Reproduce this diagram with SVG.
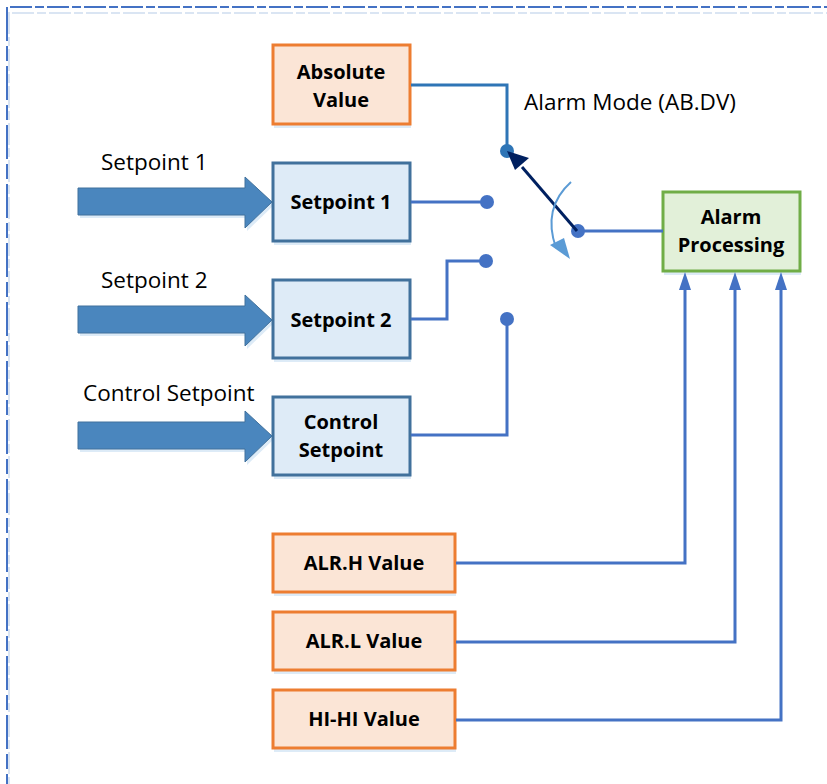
<svg xmlns="http://www.w3.org/2000/svg" width="827" height="784" viewBox="0 0 827 784">
<style>
.bd{fill:none;stroke:#4472C4;stroke-width:2}
.bds{fill:none;stroke:#DAE5F3;stroke-width:2}
.or{fill:#FBE5D6;stroke:#ED7D31;stroke-width:3}
.bl{fill:#DEEBF7;stroke:#41719C;stroke-width:3}
.gr{fill:#E2F0D9;stroke:#70AD47;stroke-width:3}
.sh{fill:#DDEBF7;stroke:none}
.t{font-family:"Open Sans","Liberation Sans",sans-serif;font-weight:bold;font-size:20px;fill:#000;text-anchor:middle}
.lb{font-family:"Open Sans","Liberation Sans",sans-serif;font-size:22.5px;fill:#000}
.c{fill:none;stroke:#4472C4;stroke-width:3}
.dot{fill:#4472C4}
.big{fill:#4A86BE;stroke:#41719C;stroke-width:1}
</style>
<g id="border">
<path class="bds" d="M12 13 H827 M9 12 V784" stroke-dasharray="22 3 9 3"/>
<path class="bd" d="M10 7 H827" stroke-dasharray="22 3 9 3"/>
<path class="bd" d="M7 7 V784" stroke-dasharray="34 5 15 5"/>
</g>

<g id="arrow1">
<path d="M80 191 H247 V180 L274 205 L247 231 V218 H80 Z" fill="#DDEBF7"/>
<path class="big" d="M78 188 H245 V177 L272 202 L245 228 V215 H78 Z"/>
</g>
<g id="arrow2">
<path d="M80 309 H247 V298 L274 323 L247 349 V336 H80 Z" fill="#DDEBF7"/>
<path class="big" d="M78 306 H245 V295 L272 320 L245 346 V333 H78 Z"/>
</g>
<g id="arrow3">
<path d="M80 425 H247 V414 L274 439 L247 465 V452 H80 Z" fill="#DDEBF7"/>
<path class="big" d="M78 422 H245 V411 L272 436 L245 462 V449 H78 Z"/>
</g>
<text class="lb" x="101" y="170">Setpoint 1</text>
<text class="lb" x="101" y="288">Setpoint 2</text>
<text class="lb" x="83" y="401">Control Setpoint</text>
<text class="lb" x="524" y="110">Alarm Mode (AB.DV)</text>

<g id="absolute">
<rect class="sh" x="274" y="125" width="137" height="3"/>
<rect class="or" x="273" y="45" width="137" height="79"/>
<text class="t" x="341" y="79">Absolute</text>
<text class="t" x="341" y="107">Value</text>
</g>
<g id="setpoint1">
<rect class="sh" x="274" y="242" width="137" height="3"/>
<rect class="bl" x="273" y="163" width="137" height="78"/>
<text class="t" x="341" y="209">Setpoint 1</text>
</g>
<g id="setpoint2">
<rect class="sh" x="274" y="359" width="137" height="3"/>
<rect class="bl" x="273" y="280" width="137" height="78"/>
<text class="t" x="341" y="327">Setpoint 2</text>
</g>
<g id="controlsp">
<rect class="sh" x="274" y="476" width="137" height="3"/>
<rect class="bl" x="273" y="397" width="137" height="78"/>
<text class="t" x="341" y="429">Control</text>
<text class="t" x="341" y="457">Setpoint</text>
</g>
<g id="alarmproc">
<rect class="sh" x="664" y="272" width="137" height="3"/>
<rect class="gr" x="663" y="192" width="137" height="79"/>
<text class="t" x="731" y="224">Alarm</text>
<text class="t" x="731" y="252">Processing</text>
</g>
<g id="alrh">
<rect class="sh" x="274" y="593" width="182" height="3"/>
<rect class="or" x="273" y="534" width="182" height="58"/>
<text class="t" x="364" y="570">ALR.H Value</text>
</g>
<g id="alrl">
<rect class="sh" x="274" y="671" width="182" height="3"/>
<rect class="or" x="273" y="612" width="182" height="58"/>
<text class="t" x="364" y="648">ALR.L Value</text>
</g>
<g id="hihi">
<rect class="sh" x="274" y="749" width="182" height="3"/>
<rect class="or" x="273" y="690" width="182" height="58"/>
<text class="t" x="364" y="726">HI-HI Value</text>
</g>

<g id="connectors">
<path d="M411 85 H507 V152" fill="none" stroke="#2E75B6" stroke-width="3"/>
<circle cx="507" cy="151" r="7" fill="#2E75B6"/>
<path class="c" d="M411 202 H487"/>
<circle class="dot" cx="487" cy="202" r="7"/>
<path class="c" d="M411 319 H447 V261 H486"/>
<circle class="dot" cx="486" cy="261" r="7"/>
<path class="c" d="M411 435 H507 V319"/>
<circle class="dot" cx="507" cy="319" r="7"/>
<path class="c" d="M578 231 H663"/>
<circle class="dot" cx="578" cy="231" r="7"/>
<path d="M577 231 L522 167" fill="none" stroke="#002060" stroke-width="3"/>
<path d="M507 151 L529 158 L515 170 Z" fill="#002060"/>
<path d="M571 182 Q542 208 556 248" fill="none" stroke="#5B9BD5" stroke-width="2"/>
<path d="M550 245 L570 259 L564 238 Z" fill="#5B9BD5"/>
<path class="c" d="M456 563 H685 V288"/>
<path d="M685 272 L679 290 L691 290 Z" fill="#4472C4"/>
<path class="c" d="M456 642 H735 V288"/>
<path d="M735 272 L729 290 L741 290 Z" fill="#4472C4"/>
<path class="c" d="M456 720 H781 V288"/>
<path d="M781 272 L775 290 L787 290 Z" fill="#4472C4"/>
</g>
</svg>
